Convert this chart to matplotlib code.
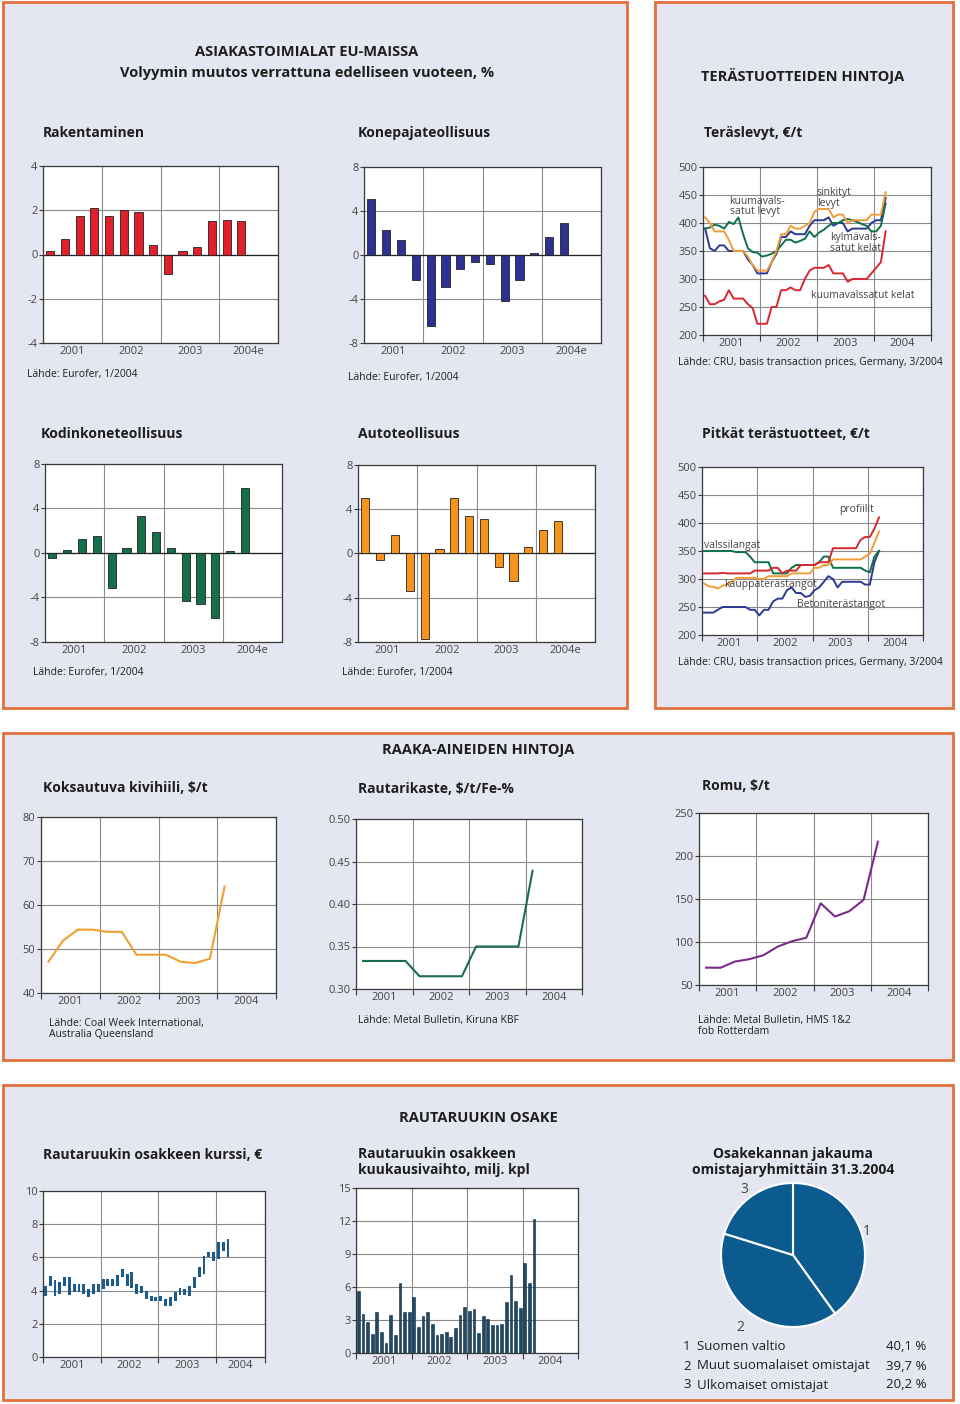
import numpy as np
import matplotlib
matplotlib.use('Agg')
import matplotlib.pyplot as plt
from matplotlib.patches import Rectangle

plt.rcParams['font.family'] = ['Open Sans', 'DejaVu Sans']
plt.rcParams['axes.unicode_minus'] = False

# --- data -----------------------------------------------------------------
years_e = ['2001', '2002', '2003', '2004e']
years_p = ['2001', '2002', '2003', '2004']

# quarterly volume change, % (last quarter of 2004e = 0)
rakentaminen = [0.15, 0.7, 1.73, 2.08, 1.73, 2.0, 1.93, 0.42, -0.88, 0.15, 0.36, 1.5, 1.58, 1.5, 0]
konepaja = [5.05, 2.3, 1.35, -2.3, -6.45, -2.9, -1.3, -0.65, -0.8, -4.2, -2.3, 0.2, 1.6, 2.95, 0]
kodinkone = [-0.42, 0.24, 1.3, 1.5, -3.15, 0.45, 3.35, 1.9, 0.45, -4.35, -4.55, -5.85, 0.2, 5.85, 0]
autot = [5.0, -0.6, 1.65, -3.35, -7.75, 0.42, 5.0, 3.35, 3.15, -1.25, -2.5, 0.63, 2.1, 2.9, 0]

# monthly steel prices, EUR/t, 1/2001 - 3/2004
kuuma_levyt = [390, 392, 397, 395, 390, 402, 398, 410, 380, 355, 348, 347, 340, 342, 345, 350,
               360, 370, 370, 365, 368, 372, 385, 375, 383, 388, 395, 400, 400, 405, 407, 405,
               402, 398, 395, 385, 385, 395, 435]
sinkityt = [410, 400, 385, 385, 385, 370, 350, 350, 350, 340, 325, 315, 315, 315, 330, 350,
            380, 380, 395, 390, 390, 395, 400, 420, 425, 425, 425, 410, 415, 415, 400, 405,
            405, 405, 405, 415, 415, 415, 455]
kylma_kelat = [390, 355, 350, 360, 360, 350, 350, 350, 350, 335, 325, 310, 310, 310, 330, 345,
               375, 375, 385, 380, 380, 380, 395, 405, 405, 405, 410, 395, 400, 400, 385, 390,
               390, 390, 390, 400, 405, 405, 445]
kuuma_kelat = [270, 255, 255, 260, 263, 280, 265, 265, 265, 255, 248, 220, 220, 220, 250, 250,
               280, 280, 285, 280, 280, 300, 315, 320, 320, 320, 325, 310, 310, 310, 295, 300,
               300, 300, 300, 310, 320, 330, 385]

profiilit = [310, 310, 310, 310, 311, 310, 310, 310, 310, 310, 310, 315, 315, 315, 315, 320,
             320, 310, 315, 315, 315, 325, 325, 325, 325, 330, 330, 330, 355, 355, 355, 355,
             355, 355, 370, 375, 375, 390, 410]
kauppa = [292, 287, 286, 283, 288, 290, 295, 302, 302, 302, 302, 302, 300, 300, 305, 305,
          305, 305, 305, 310, 310, 310, 310, 310, 320, 320, 325, 325, 335, 335, 335, 335,
          335, 335, 335, 340, 345, 365, 385]
valssi = [350, 350, 350, 350, 350, 350, 350, 348, 348, 348, 340, 330, 330, 330, 330, 310,
          310, 310, 310, 320, 325, 325, 325, 325, 325, 330, 340, 340, 320, 320, 320, 320,
          320, 320, 320, 315, 312, 340, 350]
betoni = [240, 240, 240, 245, 250, 250, 250, 250, 250, 250, 245, 245, 235, 245, 245, 260,
          265, 265, 280, 285, 275, 275, 268, 270, 280, 285, 295, 305, 300, 285, 295, 295,
          295, 295, 295, 290, 290, 330, 350]

# quarterly raw material prices
kivihiili = [47.1, 51.9, 54.4, 54.4, 53.9, 53.9, 48.7, 48.7, 48.7, 47.1, 46.8, 47.8, 64.2]
rautarikaste = [0.333, 0.333, 0.333, 0.333, 0.315, 0.315, 0.315, 0.315, 0.350, 0.350, 0.350, 0.350, 0.439]
romu = [70.2, 70.0, 77.2, 80.0, 84.6, 94.7, 100.9, 105.0, 145.0, 129.6, 135.8, 149.0, 216.6]

# monthly share price range (low, high), EUR
kurssi_low = [3.7, 4.25, 3.65, 3.8, 4.3, 3.75, 3.9, 3.9, 3.8, 3.6, 3.8, 3.9,
              4.1, 4.3, 4.3, 4.3, 4.8, 4.3, 4.15, 3.8, 3.85, 3.5, 3.35, 3.35,
              3.4, 3.1, 3.1, 3.4, 3.75, 3.75, 3.7, 4.15, 4.8, 5.0, 6.0, 5.8,
              5.9, 6.4, 6.0]
kurssi_high = [4.3, 4.85, 4.65, 4.5, 4.8, 4.8, 4.4, 4.4, 4.4, 4.1, 4.4, 4.4,
               4.7, 4.7, 4.7, 4.95, 5.3, 5.0, 5.1, 4.4, 4.3, 4.0, 3.7, 3.6,
               3.7, 3.5, 3.6, 3.9, 4.15, 4.1, 4.3, 4.8, 5.4, 6.1, 6.3, 6.35,
               6.95, 6.95, 7.1]

# monthly turnover, million shares
vaihto = [5.65, 3.56, 2.78, 1.72, 3.71, 1.87, 0.9, 3.5, 1.66, 6.34, 3.74, 3.74,
          5.07, 2.38, 3.32, 3.77, 2.66, 1.6, 1.69, 1.9, 1.5, 2.3, 3.5, 4.2,
          3.86, 3.98, 1.81, 3.38, 3.11, 2.56, 2.56, 2.68, 4.65, 7.1, 4.7, 4.05,
          8.2, 6.4, 12.2]

omistajat = ['Suomen valtio', 'Muut suomalaiset omistajat', 'Ulkomaiset omistajat']
osuudet = [40.1, 39.7, 20.2]
osuus_txt = ['40,1 %', '39,7 %', '20,2 %']

# --- style ----------------------------------------------------------------
PANEL = '#e4e7f1'
BORDER = '#e36f3d'
GRID = '#8a8a8a'
AXC = '#3a3a3a'
TXT = '#1e1e1e'
LBL = '#444444'

W, H = 960, 1404
fig = plt.figure(figsize=(W / 100, H / 100), dpi=100)
fig.patch.set_facecolor('white')


def box(l, t, r, b):
    return fig.add_axes([l / W, 1 - b / H, (r - l) / W, (b - t) / H])


def text(x, y, s, size=7.5, bold=False, ha='left', va='center', color=TXT, **kw):
    fig.text(x / W, 1 - y / H, s, fontsize=size, fontweight='bold' if bold else 'normal',
             ha=ha, va=va, color=color, **kw)


def frame(ax, yticks, fmt='{:g}'):
    ax.set_ylim(yticks[0], yticks[-1])
    ax.set_yticks(yticks, [fmt.format(v) for v in yticks])
    ax.grid(axis='y', color=GRID, lw=0.8)
    ax.set_axisbelow(True)
    ax.set_facecolor('white')
    for s in ax.spines.values():
        s.set_color(AXC)
        s.set_linewidth(0.9)
    ax.tick_params(axis='y', length=3, width=0.8, color=AXC, labelsize=8, labelcolor=LBL, pad=1)


def years(ax, per, end, labels, outticks=True):
    bounds = [0, per, 2 * per, 3 * per, end]
    ax.set_xlim(0, end)
    ax.set_xticks(bounds, [''] * 5)
    centers = [per * (i + 0.5) for i in range(3)] + [(3 * per + end) / 2]
    ax.set_xticks(centers, labels, minor=True)
    ax.grid(axis='x', which='major', color=GRID, lw=0.8)
    ax.tick_params(axis='x', which='major', length=4 if outticks else 0, width=0.8, color=AXC)
    ax.tick_params(axis='x', which='minor', length=0, labelsize=8, labelcolor=LBL, pad=2)


# panels
for l, t, r, b in [(3, 2, 627, 708), (655, 2, 953, 708), (3, 733, 953, 1060), (3, 1085, 953, 1400)]:
    fig.add_artist(Rectangle((l / W, 1 - b / H), (r - l) / W, (b - t) / H, transform=fig.transFigure,
                             facecolor=PANEL, edgecolor=BORDER, lw=2, zorder=-5))

# --- EU customer industries ----------------------------------------------
text(307, 52, 'ASIAKASTOIMIALAT EU-MAISSA', size=10.5, bold=True, ha='center')
text(307, 73, 'Volyymin muutos verrattuna edelliseen vuoteen, %', size=10.5, bold=True, ha='center')


def bars(pos, vals, color, lim, title, tpos, src):
    ax = box(*pos)
    x = np.arange(len(vals)) + 0.5
    ax.bar(x, vals, width=0.55, color=color, edgecolor='#222222', linewidth=0.6, zorder=3)
    ax.axhline(0, color='#222222', lw=0.9, zorder=2)
    frame(ax, np.arange(-lim, lim + 1, lim / 2))
    years(ax, 4, 16, years_e, outticks=False)
    text(tpos[0], tpos[1], title, size=10, bold=True)
    text(src[0], src[1], 'Lähde: Eurofer, 1/2004')


bars((43, 166, 278, 343), rakentaminen, '#e2202c', 4, 'Rakentaminen', (43, 133), (27, 375))
bars((364, 167, 601, 343), konepaja, '#2e3192', 8, 'Konepajateollisuus', (358, 133), (348, 377))
bars((45, 464, 282, 642), kodinkone, '#137049', 8, 'Kodinkoneteollisuus', (41, 434), (33, 673))
bars((358, 465, 595, 642), autot, '#f7941d', 8, 'Autoteollisuus', (358, 434), (342, 672))

# --- steel prices ---------------------------------------------------------
text(803, 76, 'TERÄSTUOTTEIDEN HINTOJA', size=10.5, bold=True, ha='center')
months = np.arange(39) + 0.45
src_cru = 'Lähde: CRU, basis transaction prices, Germany, 3/2004'

ax = box(703, 167, 931, 335)
ax.plot(months, kuuma_kelat, color='#d7282f', lw=1.4)
ax.plot(months, kylma_kelat, color='#2b3990', lw=1.4)
ax.plot(months, kuuma_levyt, color='#0f7049', lw=1.4)
ax.plot(months, sinkityt, color='#f29c38', lw=1.4)
frame(ax, np.arange(200, 501, 50))
years(ax, 12, 48, years_p)
ax.text(5.6, 449, 'kuumavals-\nsatut levyt', fontsize=7.5, color=LBL, va='top', linespacing=0.95)
ax.text(24, 464, 'sinkityt\nlevyt', fontsize=7.5, color=LBL, va='top', linespacing=0.95)
ax.text(26.8, 384, 'kylmävals-\nsatut kelat', fontsize=7.5, color=LBL, va='top', linespacing=0.95)
ax.text(22.7, 270, 'kuumavalssatut kelat', fontsize=7.5, color=LBL, va='center')
text(704, 133, 'Teräslevyt, €/t', size=10, bold=True)
text(678, 362, src_cru)

ax = box(702, 467, 923, 635)
ax.plot(months, betoni, color='#2b3990', lw=1.4)
ax.plot(months, valssi, color='#0f7049', lw=1.4)
ax.plot(months, kauppa, color='#f29c38', lw=1.4)
ax.plot(months, profiilit, color='#d7282f', lw=1.4)
frame(ax, np.arange(200, 501, 50))
years(ax, 12, 48, years_p)
ax.text(29.7, 424, 'profiilit', fontsize=7.5, color=LBL, va='center')
ax.text(0.4, 360, 'valssilangat', fontsize=7.5, color=LBL, va='center')
ax.text(4.7, 290, 'kauppaterästangot', fontsize=7.5, color=LBL, va='center')
ax.text(20.6, 255, 'Betoniterästangot', fontsize=7.5, color=LBL, va='center')
text(702, 434, 'Pitkät terästuotteet, €/t', size=10, bold=True)
text(678, 663, src_cru)

# --- raw materials --------------------------------------------------------
text(478, 750, 'RAAKA-AINEIDEN HINTOJA', size=10.5, bold=True, ha='center')
quarters = np.arange(13) + 0.5

ax = box(41, 817, 276, 993)
ax.plot(quarters, kivihiili, color='#f0a030', lw=1.5)
frame(ax, np.arange(40, 81, 10))
years(ax, 4, 16, years_p)
text(43, 788, 'Koksautuva kivihiili, $/t', size=10, bold=True)
text(49, 1029, 'Lähde: Coal Week International,\nAustralia Queensland', linespacing=1.0)

ax = box(356, 819, 582, 989)
ax.plot(quarters, rautarikaste, color='#1a6e4a', lw=1.5)
frame(ax, np.arange(0.30, 0.501, 0.05), fmt='{:.2f}')
years(ax, 4, 16, years_p)
text(358, 789, 'Rautarikaste, $/t/Fe-%', size=10, bold=True)
text(358, 1020, 'Lähde: Metal Bulletin, Kiruna KBF')

ax = box(699, 813, 928, 985)
ax.plot(quarters, romu, color='#7b2a8a', lw=1.5)
frame(ax, np.arange(50, 251, 50))
years(ax, 4, 16, years_p)
text(702, 786, 'Romu, $/t', size=10, bold=True)
text(698, 1026, 'Lähde: Metal Bulletin, HMS 1&2\nfob Rotterdam', linespacing=1.0)

# --- Rautaruukki share ----------------------------------------------------
text(478, 1118, 'RAUTARUUKIN OSAKE', size=10.5, bold=True, ha='center')

ax = box(43, 1191, 265, 1357)
lo = np.array(kurssi_low)
hi = np.array(kurssi_high)
ax.bar(months + 0.05, hi - lo, bottom=lo, width=0.6, color='#1b5c8c', zorder=3)
frame(ax, np.arange(0, 11, 2))
years(ax, 12, 46.2, years_p)
text(43, 1155, 'Rautaruukin osakkeen kurssi, €', size=10, bold=True)

ax = box(356, 1188, 578, 1353)
ax.bar(months + 0.05, vaihto, width=0.6, color='#1e4a68', edgecolor='#10283a', linewidth=0.4, zorder=3)
frame(ax, np.arange(0, 16, 3))
years(ax, 12, 48, years_p)
text(358, 1162, 'Rautaruukin osakkeen\nkuukausivaihto, milj. kpl', size=10, bold=True, linespacing=1.15)

# pie: axes box equals the pie's diameter
ax = box(721, 1183, 865, 1327)
wedges, labels = ax.pie(osuudet, labels=['1', '2', '3'], startangle=90, counterclock=False,
                        colors=['#0c5b8e'] * 3,
                        wedgeprops=dict(edgecolor='white', linewidth=1.5),
                        textprops=dict(fontsize=10, color=LBL))
ax.set_xlim(-1, 1)
ax.set_ylim(-1, 1)
ax.set_aspect('equal')
for w, t, dist in zip(wedges, labels, [1.08, 1.25, 1.13]):
    ang = np.deg2rad((w.theta1 + w.theta2) / 2)
    t.set_position((dist * np.cos(ang), dist * np.sin(ang)))
    t.set_ha('center')
    t.set_va('center')
text(793, 1162, 'Osakekannan jakauma\nomistajaryhmittäin 31.3.2004', size=10, bold=True,
     ha='center', linespacing=1.15)

for i, (name, pct) in enumerate(zip(omistajat, osuus_txt)):
    y = 1347 + 19 * i
    text(683, y, str(i + 1), size=9.5, color=TXT)
    text(697, y, name, size=9.5, color=TXT)
    text(926, y, pct, size=9.5, color=TXT, ha='right')

fig.savefig('out.png', dpi=100, facecolor='white')
